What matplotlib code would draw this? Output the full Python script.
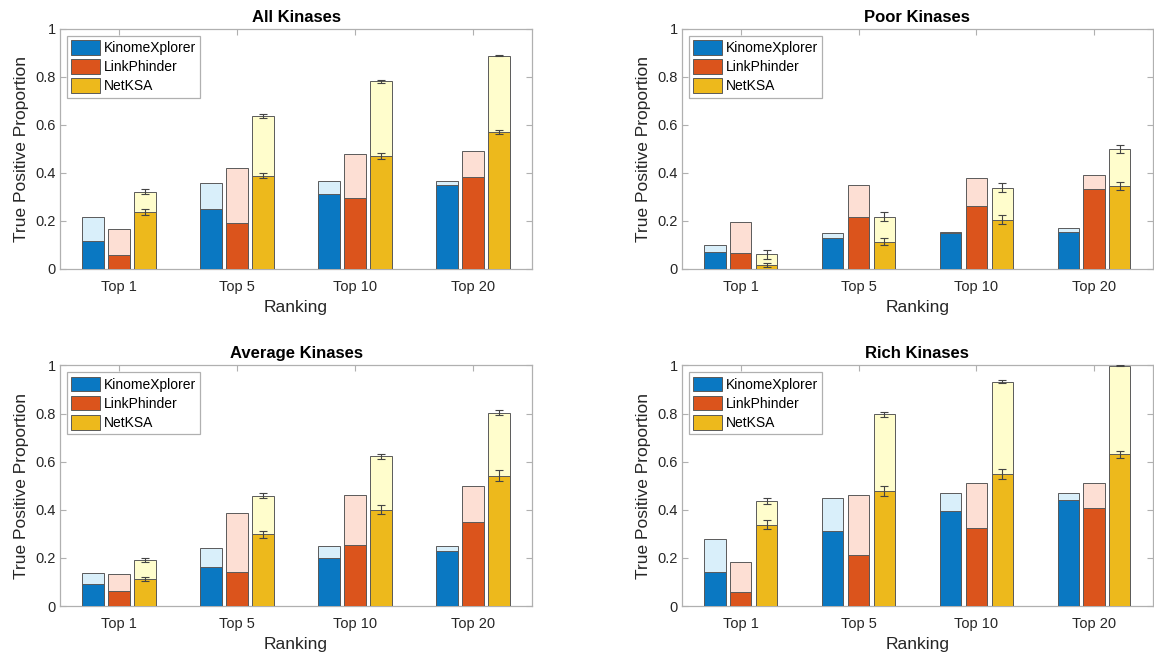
import numpy as np
import matplotlib.pyplot as plt
from matplotlib.patches import Patch

plt.rcParams['font.family'] = ['Liberation Sans', 'DejaVu Sans']

rankings = ['Top 1', 'Top 5', 'Top 10', 'Top 20']
methods = ['KinomeXplorer', 'LinkPhinder', 'NetKSA']
titles = ['All Kinases', 'Poor Kinases', 'Average Kinases', 'Rich Kinases']

# light (total) and dark (lower) bar heights, one row per method
all_light = [[0.217, 0.358, 0.368, 0.368],
             [0.168, 0.419, 0.479, 0.490],
             [0.322, 0.636, 0.781, 0.889]]
all_dark = [[0.118, 0.249, 0.312, 0.349],
            [0.058, 0.192, 0.296, 0.382],
            [0.238, 0.389, 0.469, 0.569]]
all_err_light = [0.009, 0.008, 0.005, 0.004]
all_err_dark = [0.012, 0.012, 0.012, 0.008]

poor_light = [[0.099, 0.150, 0.154, 0.169],
              [0.197, 0.349, 0.379, 0.390],
              [0.061, 0.218, 0.339, 0.500]]
poor_dark = [[0.071, 0.128, 0.149, 0.156],
             [0.067, 0.218, 0.264, 0.331],
             [0.017, 0.113, 0.206, 0.347]]
poor_err_light = [0.018, 0.020, 0.017, 0.018]
poor_err_dark = [0.008, 0.015, 0.017, 0.017]

avg_light = [[0.139, 0.240, 0.250, 0.250],
             [0.135, 0.388, 0.460, 0.500],
             [0.191, 0.458, 0.623, 0.804]]
avg_dark = [[0.090, 0.164, 0.200, 0.230],
            [0.062, 0.140, 0.252, 0.351],
            [0.114, 0.298, 0.401, 0.542]]
avg_err_light = [0.008, 0.010, 0.010, 0.012]
avg_err_dark = [0.008, 0.015, 0.018, 0.022]

rich_light = [[0.279, 0.448, 0.469, 0.469],
              [0.184, 0.462, 0.510, 0.510],
              [0.436, 0.797, 0.933, 0.999]]
rich_dark = [[0.140, 0.311, 0.395, 0.441],
             [0.060, 0.212, 0.325, 0.408],
             [0.338, 0.479, 0.550, 0.630]]
rich_err_light = [0.012, 0.010, 0.005, 0.002]
rich_err_dark = [0.018, 0.020, 0.020, 0.015]

dark_colors = ['#0A78C2', '#DB541C', '#EDB91C']
light_colors = ['#D9EFFA', '#FDDFD4', '#FFFDCC']
edge = '#5a5a5a'
spine = '#b0b0b0'
txt = '#262626'

panels = [(all_light, all_dark, all_err_light, all_err_dark),
          (poor_light, poor_dark, poor_err_light, poor_err_dark),
          (avg_light, avg_dark, avg_err_light, avg_err_dark),
          (rich_light, rich_dark, rich_err_light, rich_err_dark)]

fig = plt.figure(figsize=(11.54, 6.56), dpi=100)
positions = [[0.052, 0.590, 0.409, 0.366],
             [0.591, 0.590, 0.408, 0.366],
             [0.052, 0.076, 0.409, 0.367],
             [0.591, 0.076, 0.408, 0.367]]

x = np.arange(1, len(rankings) + 1)
offsets = [-0.22, 0.0, 0.22]
width = 0.18

for pos, title, (light, dark, el, ed) in zip(positions, titles, panels):
    ax = fig.add_axes(pos)
    for i in range(3):
        xi = x + offsets[i]
        ax.bar(xi, light[i], width, color=light_colors[i], edgecolor=edge,
               linewidth=0.7, zorder=2)
        ax.bar(xi, dark[i], width, color=dark_colors[i], edgecolor=edge,
               linewidth=0.7, zorder=3)
        if i == 2:  # only NetKSA has error bars
            ax.errorbar(xi, light[i], yerr=el, fmt='none', ecolor='#444444',
                        elinewidth=0.8, capsize=3, capthick=0.8, zorder=4)
            ax.errorbar(xi, dark[i], yerr=ed, fmt='none', ecolor='#444444',
                        elinewidth=0.8, capsize=3, capthick=0.8, zorder=4)
    ax.set_xlim(0.5, 4.5)
    ax.set_ylim(0, 1)
    ax.set_xticks(x)
    ax.set_xticklabels(rankings)
    ax.set_yticks([0, 0.2, 0.4, 0.6, 0.8, 1])
    ax.set_yticklabels(['0', '0.2', '0.4', '0.6', '0.8', '1'])
    ax.tick_params(direction='in', top=True, right=True, length=4,
                   color=spine, labelcolor=txt, labelsize=10.5)
    ax.tick_params(axis='x', pad=8)
    ax.tick_params(axis='y', pad=3)
    for s in ax.spines.values():
        s.set_color(spine)
        s.set_linewidth(0.9)
    ax.set_xlabel('Ranking', fontsize=12.5, color=txt, labelpad=4)
    ax.set_ylabel('True Positive Proportion', fontsize=12.5, color=txt,
                  labelpad=5)
    ax.set_title(title, fontsize=12, fontweight='bold', pad=5)
    handles = [Patch(facecolor=dark_colors[i], edgecolor=edge, linewidth=0.7)
               for i in range(3)]
    leg = ax.legend(handles, methods, loc='upper left', fontsize=10,
                    fancybox=False, framealpha=1, edgecolor=spine,
                    handlelength=2.1, handleheight=1.25, handletextpad=0.25,
                    labelspacing=0.3, borderpad=0.3,
                    borderaxespad=0.5)
    leg.get_frame().set_linewidth(0.9)

plt.savefig('out.png', dpi=100)
